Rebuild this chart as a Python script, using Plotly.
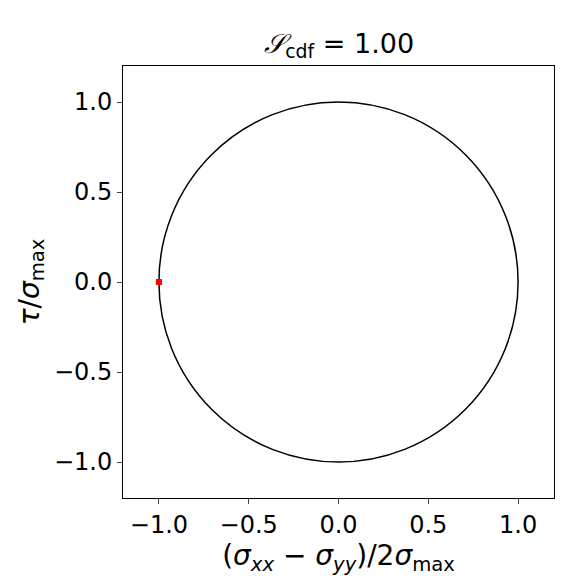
import plotly.graph_objects as go

# Mohr circle data
circle_center = [0.0, 0.0]
circle_radius = 1.0
point_x = [-1.0]
point_y = [0.0]
tick_vals = [-1.0, -0.5, 0.0, 0.5, 1.0]
tick_text = ["\u22121.0", "\u22120.5", "0.0", "0.5", "1.0"]

fig = go.Figure()
fig.add_trace(go.Scatter(x=point_x, y=point_y, mode="markers",
                         marker=dict(symbol="square", size=6, color="red"),
                         showlegend=False))
fig.add_shape(type="circle", xref="x", yref="y",
              x0=circle_center[0] - circle_radius, x1=circle_center[0] + circle_radius,
              y0=circle_center[1] - circle_radius, y1=circle_center[1] + circle_radius,
              line=dict(color="black", width=1.5), layer="below")

axis = dict(range=[-1.2, 1.2], tickvals=tick_vals, ticktext=tick_text,
            showgrid=False, zeroline=False, showline=True, mirror=True,
            linecolor="black", linewidth=1, ticks="outside", ticklen=5,
            automargin=False, tickfont=dict(size=24, color="black"))
fig.update_layout(
    width=576, height=576,
    paper_bgcolor="white", plot_bgcolor="white",
    font=dict(family="DejaVu Sans", color="black"),
    margin=dict(l=115, r=30, t=58, b=86),
    title=dict(text="<i>\U0001D4AE</i><sub>cdf</sub> = 1.00", x=0.575, xanchor="center",
               y=0.955, font=dict(size=27)),
    xaxis=dict(axis, title=dict(text="(<i>σ<sub>xx</sub></i> \u2212 <i>σ<sub>yy</sub></i>)/2<i>σ</i><sub>max</sub>",
                                font=dict(size=28), standoff=6)),
    yaxis=dict(axis, title=dict(text="<i>τ</i>/<i>σ</i><sub>max</sub>",
                                font=dict(size=28), standoff=6)),
)
fig.write_html("out.html")
